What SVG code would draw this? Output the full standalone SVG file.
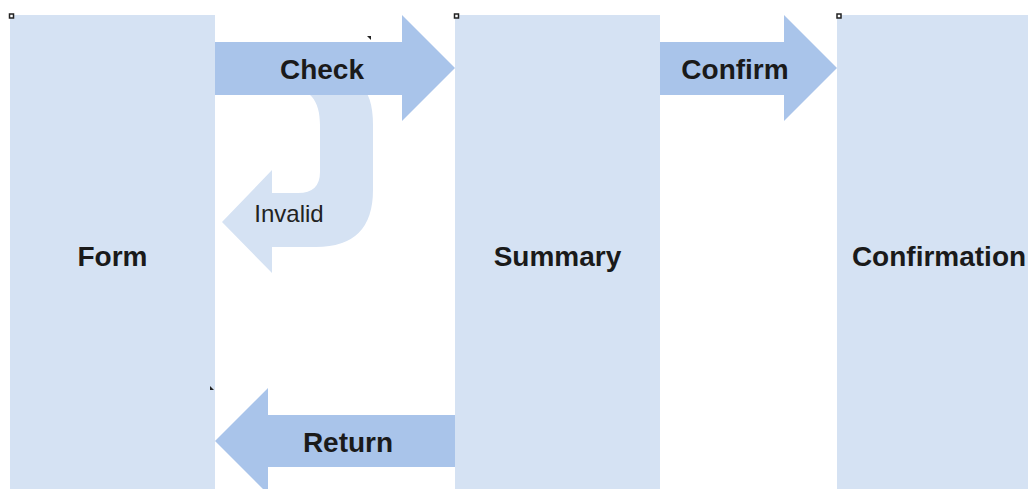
<svg xmlns="http://www.w3.org/2000/svg" width="1028" height="489" viewBox="0 0 1028 489">
<style>
.node{fill:#d5e2f3}
.arrow{fill:#a9c4ea}
.loop{fill:#d5e2f3}
.lbl{font-family:"Liberation Sans",Arial,sans-serif;font-weight:bold;font-size:28px;fill:#1a1a1a;text-anchor:middle}
.small{font-family:"Liberation Sans",Arial,sans-serif;font-size:24px;fill:#222;text-anchor:middle}
.mk{fill:#fff;stroke:#222;stroke-width:1.5}
</style>
<rect width="1028" height="489" fill="#fff"/>
<g id="node-form">
<rect class="node" x="10" y="15" width="205" height="474"/>
<text class="lbl" x="112.5" y="266">Form</text>
</g>
<g id="node-summary">
<rect class="node" x="455" y="15" width="205" height="474"/>
<text class="lbl" x="557.5" y="266">Summary</text>
</g>
<g id="node-confirmation">
<rect class="node" x="837" y="15" width="191" height="474"/>
<text class="lbl" x="939" y="266">Confirmation</text>
</g>
<g id="connectors">
<g id="edge-invalid">
<path class="loop" d="M285,85 C310,88 320,100 320,125 L320,172 Q320,193 298,193 L272,193 L272,170 L222,222 L272,273 L272,247 L316,247 Q373,247 373,190 L373,125 Q373,95 360,85 Z"/>
<text class="small" x="289" y="222">Invalid</text>
</g>
<g id="edge-check">
<path class="arrow" d="M215,42 L402,42 L402,15 L455,68 L402,121 L402,95 L215,95 Z"/>
<text class="lbl" x="322" y="79">Check</text>
</g>
<g id="edge-confirm">
<path class="arrow" d="M660,42 L784,42 L784,15 L837,68 L784,121 L784,95 L660,95 Z"/>
<text class="lbl" x="735" y="79">Confirm</text>
</g>
<g id="edge-return">
<path class="arrow" d="M455,415 L268,415 L268,388 L215,441 L268,494 L268,467 L455,467 Z"/>
<text class="lbl" x="348" y="452">Return</text>
</g>
</g>
<g id="marks">
<rect class="mk" x="9.5" y="14" width="4" height="4"/>
<rect class="mk" x="454.5" y="14" width="4" height="4"/>
<rect class="mk" x="837" y="14" width="4" height="4"/>
<path d="M367,36 L371,36 L371,40 Z" fill="#222"/>
<path d="M210,386 L210,390 L214,390 Z" fill="#222"/>
</g>
</svg>
